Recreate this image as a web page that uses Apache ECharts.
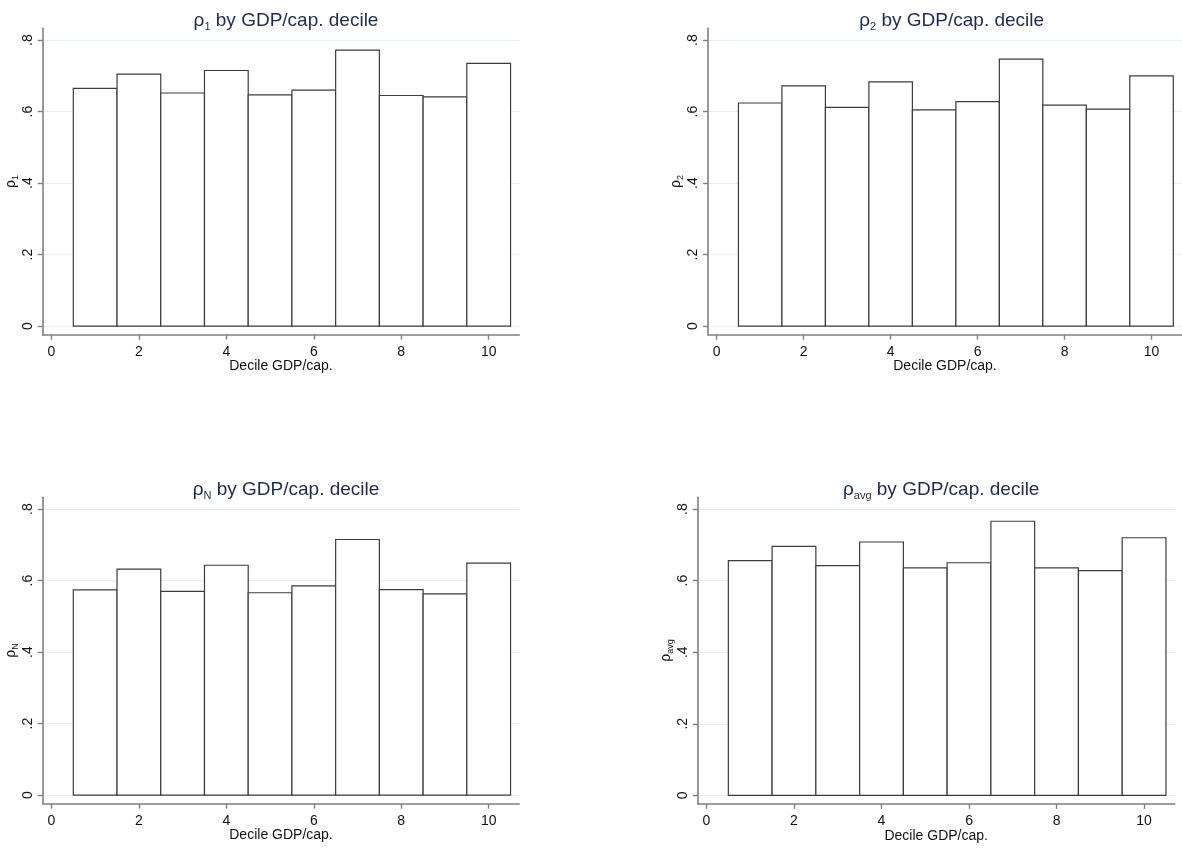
<!DOCTYPE html>
<html>
<head>
<meta charset="utf-8">
<script src="https://cdn.jsdelivr.net/npm/echarts@6/dist/echarts.min.js"></script>
<style>
  html, body { margin: 0; padding: 0; background: #fff; }
  #chart { width: 1182px; height: 848px; }
</style>
</head>
<body>
<div id="chart"></div>
<script>
// ---- data ----
const deciles = [1, 2, 3, 4, 5, 6, 7, 8, 9, 10];
const rho1   = [0.665, 0.705, 0.652, 0.715, 0.647, 0.660, 0.772, 0.645, 0.641, 0.735];
const rho2   = [0.624, 0.672, 0.612, 0.683, 0.605, 0.628, 0.747, 0.618, 0.607, 0.700];
const rhoN   = [0.574, 0.632, 0.570, 0.643, 0.566, 0.585, 0.715, 0.575, 0.563, 0.649];
const rhoAvg = [0.656, 0.696, 0.642, 0.708, 0.636, 0.650, 0.766, 0.636, 0.628, 0.720];
const subscripts = ['1', '2', 'N', 'avg'];
const titleRest = ' by GDP/cap. decile';
const xAxisTitle = 'Decile GDP/cap.';
const xTicks = [0, 2, 4, 6, 8, 10];
const yTicks = [0, 0.2, 0.4, 0.6, 0.8];

// ---- layout ----
const FONT = '"Liberation Sans", Arial, sans-serif';
const TITLE_COLOR = '#1e2c4a';
const AXIS_COLOR = '#808080';
const grids = [
  { left: 42.7, top: 28.3, width: 476.6, height: 306.4 },
  { left: 708,  top: 28.3, width: 477.4, height: 306.4 },
  { left: 42.7, top: 497.3, width: 476.6, height: 306.4 },
  { left: 697.7, top: 497.3, width: 477.0, height: 306.6 }
];
const seriesData = [rho1, rho2, rhoN, rhoAvg];

function yFmt(v) {
  if (Math.abs(v) < 1e-9) return '0';
  return v.toFixed(1).replace(/^0\./, '.');
}

const option = {
  animation: false,
  backgroundColor: '#fff',
  title: [],
  grid: [],
  xAxis: [],
  yAxis: [],
  series: []
};

grids.forEach((g, i) => {
  option.grid.push({ left: g.left, top: g.top, width: g.width, height: g.height, containLabel: false });
  option.title.push({
    text: '{r|ρ}{s|' + subscripts[i] + '}{t|' + titleRest + '}',
    left: g.left + g.width / 2,
    top: g.top - 25,
    textAlign: 'center',
    textStyle: {
      fontWeight: 'normal',
      rich: {
        r: { fontSize: 19, fontFamily: FONT, fontWeight: 'normal', color: TITLE_COLOR, lineHeight: 24 },
        s: { fontSize: 11, fontFamily: FONT, fontWeight: 'normal', color: TITLE_COLOR, lineHeight: 13, verticalAlign: 'bottom' },
        t: { fontSize: 19, fontFamily: FONT, fontWeight: 'normal', color: TITLE_COLOR, lineHeight: 24 }
      }
    }
  });
  option.xAxis.push({
    type: 'value',
    gridIndex: i,
    min: -0.2,
    max: 10.7,
    name: xAxisTitle,
    nameLocation: 'middle',
    nameGap: 24,
    nameTextStyle: { fontSize: 14, fontFamily: FONT, color: '#111' },
    axisLine: { show: true, onZero: false, lineStyle: { color: AXIS_COLOR, width: 1.6 } },
    axisTick: { show: true, length: 5, customValues: xTicks, lineStyle: { color: AXIS_COLOR, width: 1.4 } },
    axisLabel: { customValues: xTicks, fontSize: 14, fontFamily: FONT, color: '#111', margin: 10 },
    splitLine: { show: false }
  });
  option.yAxis.push({
    type: 'value',
    gridIndex: i,
    min: -0.024,
    max: 0.833,
    name: '{r|ρ}{s|' + subscripts[i] + '}',
    nameLocation: 'middle',
    nameRotate: 90,
    nameGap: 19,
    nameTextStyle: {
      rich: {
        r: { fontSize: 14, fontFamily: FONT, color: '#111', lineHeight: 17 },
        s: { fontSize: 9, fontFamily: FONT, color: '#111', lineHeight: 10, verticalAlign: 'bottom' }
      }
    },
    axisLine: { show: true, onZero: false, lineStyle: { color: AXIS_COLOR, width: 1.6 } },
    axisTick: { show: true, length: 5, customValues: yTicks, lineStyle: { color: AXIS_COLOR, width: 1.4 } },
    axisLabel: { customValues: yTicks, rotate: 90, fontSize: 14, fontFamily: FONT, color: '#111', margin: 8, formatter: yFmt },
    splitLine: { show: true, lineStyle: { color: '#e6eff0', width: 1 } }
  });
  option.series.push({
    type: 'custom',
    xAxisIndex: i,
    yAxisIndex: i,
    data: deciles.map((d, k) => [d, seriesData[i][k]]),
    renderItem: function (params, api) {
      const x = api.value(0), y = api.value(1);
      const p0 = api.coord([x - 0.5, 0]);
      const p1 = api.coord([x + 0.5, y]);
      return {
        type: 'rect',
        shape: { x: p0[0], y: p1[1], width: p1[0] - p0[0], height: p0[1] - p1[1] },
        style: { fill: '#ffffff', stroke: '#3c3c3c', lineWidth: 1.2 }
      };
    }
  });
});

const chart = echarts.init(document.getElementById('chart'), null, { renderer: 'canvas' });
chart.setOption(option);
</script>
</body>
</html>
